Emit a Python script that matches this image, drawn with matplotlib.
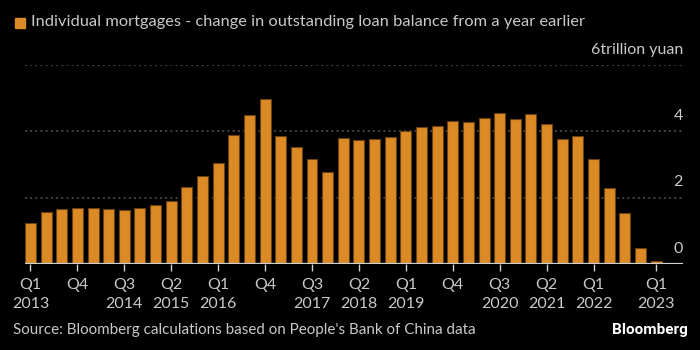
import matplotlib.pyplot as plt
from matplotlib.transforms import blended_transform_factory
import numpy as np

plt.rcParams['font.family'] = ['Lato', 'DejaVu Sans']

# yearly change in outstanding individual mortgage balance, trillion yuan, Q1 2013 .. Q1 2023
values = [1.23, 1.56, 1.65, 1.70, 1.70, 1.65, 1.62, 1.70, 1.79, 1.89,
          2.32, 2.65, 3.06, 3.90, 4.48, 4.97, 3.87, 3.54, 3.16, 2.77,
          3.81, 3.73, 3.78, 3.84, 4.00, 4.12, 4.17, 4.32, 4.29, 4.39,
          4.56, 4.36, 4.53, 4.23, 3.78, 3.87, 3.16, 2.29, 1.53, 0.47,
          0.08]
tick_pos = [0, 3, 6, 9, 12, 15, 18, 21, 24, 27, 30, 33, 36, 40]
tick_labels = ["Q1\n2013", "Q4", "Q3\n2014", "Q2\n2015", "Q1\n2016", "Q4",
               "Q3\n2017", "Q2\n2018", "Q1\n2019", "Q4", "Q3\n2020",
               "Q2\n2021", "Q1\n2022", "Q1\n2023"]
y_ticks = [0, 2, 4, 6]
y_labels = ["0", "2", "4", "6trillion yuan"]

bar_color = '#dc8a26'
text_color = '#c9c9c9'

fig = plt.figure(figsize=(7, 3.5), dpi=100, facecolor='black')
ax = fig.add_axes([25 / 700, 1 - 264 / 350, 658 / 700, 199 / 350])
ax.set_facecolor('black')

x = np.arange(len(values))
ax.bar(x, values, width=0.7, color=bar_color, edgecolor='#6b4210', linewidth=0.8, zorder=3)

ax.set_xlim(-0.35, 41.72)
ax.set_ylim(0, 6)

for v in y_ticks[1:]:
    ax.axhline(v, color='#5a5a5a', linestyle=(0, (1.2, 2.2)), linewidth=1.1, zorder=1)
ax.axhline(0, color='#cfcfcf', linewidth=1.6, zorder=4)

trans = blended_transform_factory(ax.transAxes, ax.transData)
for v, lab in zip(y_ticks, y_labels):
    ax.annotate(lab, xy=(1.0, v), xycoords=trans, xytext=(0, 11),
                textcoords='offset points', ha='right', va='center',
                color=text_color, fontsize=11.5)

ax.set_yticks([])
ax.set_xticks(tick_pos)
ax.set_xticklabels(tick_labels, color=text_color, fontsize=11.5, linespacing=1.5)
ax.tick_params(axis='x', length=5, width=1, color='#cfcfcf', pad=5)
for s in ax.spines.values():
    s.set_visible(False)

# legend-ish header
fig.patches.append(plt.Rectangle((15 / 700, 1 - 28 / 350), 10 / 700, 10 / 350,
                                 transform=fig.transFigure, color=bar_color))
fig.text(31 / 700, 1 - 22 / 350,
         "Individual mortgages - change in outstanding loan balance from a year earlier",
         color=text_color, fontsize=11.8, va='center', ha='left')

fig.text(13 / 700, 1 - 330 / 350,
         "Source: Bloomberg calculations based on People's Bank of China data",
         color=text_color, fontsize=10.9, va='center', ha='left')
fig.text(688 / 700, 1 - 330 / 350, "Bloomberg", color='white', fontsize=11,
         fontweight='bold', va='center', ha='right', family=['Roboto', 'DejaVu Sans'])

fig.savefig('out.png', dpi=100, facecolor='black')
